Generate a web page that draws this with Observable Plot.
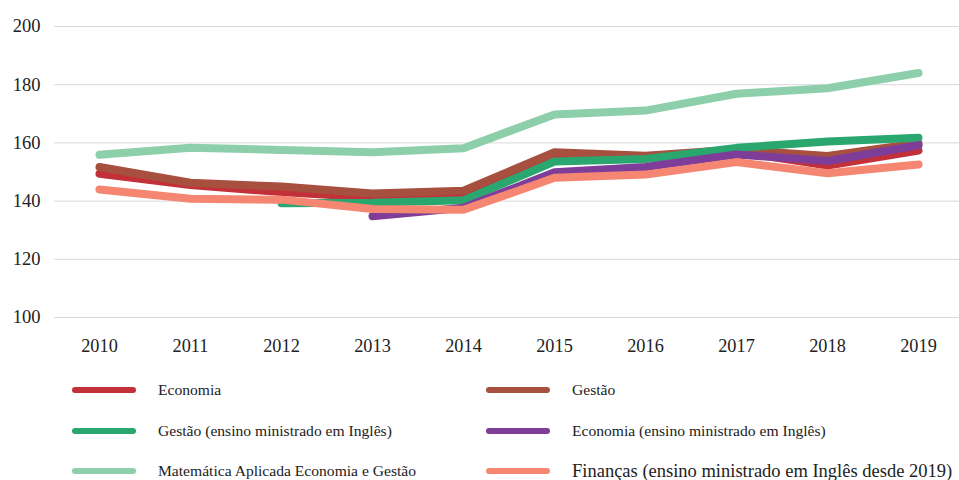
<!DOCTYPE html>
<html>
<head>
<meta charset="utf-8">
<script src="https://cdn.jsdelivr.net/npm/d3@7"></script>
<script src="https://cdn.jsdelivr.net/npm/@observablehq/plot@0.6"></script>
<style>
  html, body { margin: 0; padding: 0; background: #fff; }
  body { width: 959px; height: 480px; overflow: hidden; font-family: "Liberation Serif", "Times New Roman", serif; }
  #chart { position: relative; width: 959px; }
  #chart svg, #chart svg text { font-family: "Liberation Serif", "Times New Roman", serif; }
  #legend { position: relative; width: 959px; height: 115px; }
  .item { position: absolute; display: flex; align-items: center; color: #222; font-size: 15.6px; white-space: nowrap; }
  .sw { width: 64px; height: 6px; border-radius: 3px; margin-right: 22px; }
</style>
</head>
<body>
<div id="chart"></div>
<div id="legend"></div>
<script>
const years = [2010, 2011, 2012, 2013, 2014, 2015, 2016, 2017, 2018, 2019];
const seriesNames = [
  "Economia",
  "Gestão",
  "Gestão (ensino ministrado em Inglês)",
  "Economia (ensino ministrado em Inglês)",
  "Matemática Aplicada Economia e Gestão",
  "Finanças (ensino ministrado em Inglês desde 2019)"
];
const colors = ["#C2313A", "#A8503F", "#2AA66F", "#7E3D98", "#8ECFAB", "#F58672"];
const economia   = [149.4, 145.5, 143.1, 141.2, 142.3, 155.3, 154.8, 157.0, 152.2, 157.4];
const gestao     = [151.7, 146.3, 145.0, 142.6, 143.6, 156.8, 155.6, 157.7, 155.5, 159.9];
const gestaoEN   = [null, null, 139.3, 139.4, 140.3, 153.6, 154.5, 158.3, 160.5, 161.8];
const economiaEN = [null, null, null, 134.8, 137.7, 149.9, 151.7, 156.0, 153.8, 159.2];
const matematica = [155.9, 158.3, 157.6, 156.8, 158.2, 169.8, 171.1, 176.9, 178.8, 184.0];
const financas   = [144.0, 140.8, 140.5, 137.3, 137.0, 148.0, 149.1, 153.4, 149.6, 152.6];
const yTicks = [100, 120, 140, 160, 180, 200];

const allSeries = [economia, gestao, gestaoEN, economiaEN, matematica, financas];
const data = [];
allSeries.forEach((vals, i) => {
  vals.forEach((v, j) => {
    if (v != null) data.push({series: seriesNames[i], year: years[j], value: v});
  });
});

const chart = Plot.plot({
  width: 959,
  height: 365,
  marginLeft: 54,
  marginRight: 0,
  marginTop: 26,
  marginBottom: 48,
  style: "font-family: 'Liberation Serif', 'Times New Roman', serif; font-size: 18px; color: #222; background: #fff;",
  x: {type: "point", domain: years, range: [97, 920], padding: 0, label: null},
  y: {domain: [100, 200], label: null},
  color: {domain: seriesNames, range: colors},
  marks: [
    Plot.ruleY(yTicks, {stroke: "#d9d9d9", strokeWidth: 1}),
    Plot.axisY(yTicks, {tickSize: 0, tickPadding: 14, label: null, fontSize: 18.5}),
    Plot.axisX(years, {tickSize: 0, tickPadding: 21, label: null, fontSize: 18.3, tickFormat: d => String(d)}),
    Plot.line(data, {x: "year", y: "value", z: "series", stroke: "series", strokeWidth: 8, strokeLinecap: "round", strokeLinejoin: "round"})
  ]
});
document.getElementById("chart").appendChild(chart);

const legend = document.getElementById("legend");
const pos = [
  [72, 25], [486, 25],
  [72, 66], [486, 66],
  [72, 106], [486, 106]
];
seriesNames.forEach((name, i) => {
  const d = document.createElement("div");
  d.className = "item";
  d.style.left = pos[i][0] + "px";
  d.style.top = (pos[i][1] - 10) + "px";
  d.style.height = "20px";
  if (i === 5) d.style.fontSize = "18.5px";
  const sw = document.createElement("div");
  sw.className = "sw";
  sw.style.background = colors[i];
  const t = document.createElement("span");
  t.textContent = name;
  d.appendChild(sw);
  d.appendChild(t);
  legend.appendChild(d);
});
</script>
</body>
</html>
